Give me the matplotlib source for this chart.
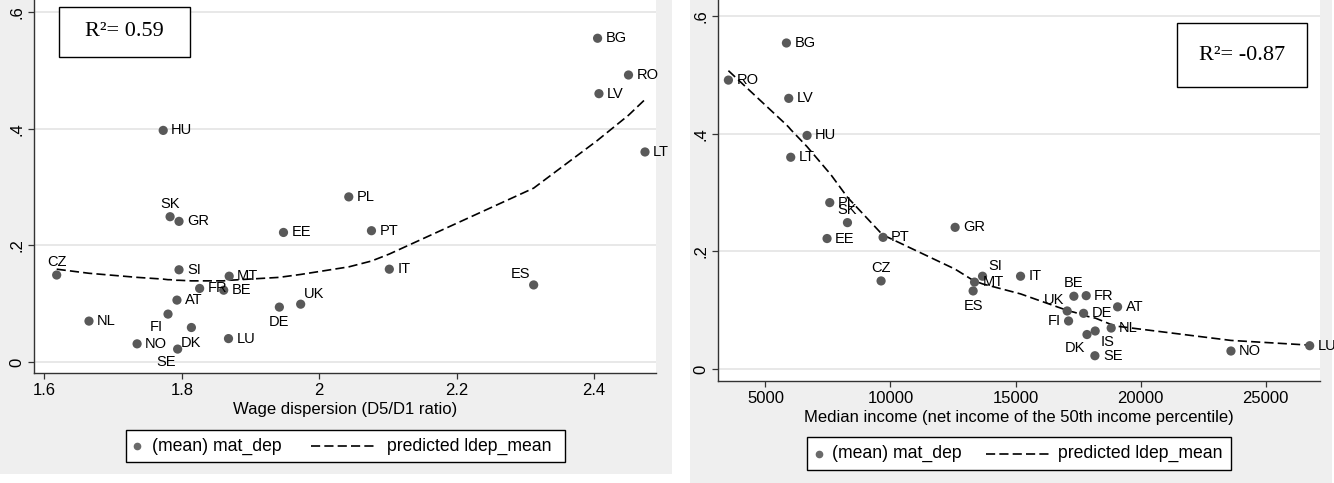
import numpy as np
import matplotlib.pyplot as plt
from matplotlib.patches import Rectangle
from matplotlib.lines import Line2D

plt.rcParams['font.family'] = ['Liberation Sans', 'DejaVu Sans']

# --- left panel: material deprivation vs wage dispersion ---
ctry_w = ['CZ', 'NL', 'NO', 'SE', 'DK', 'FI', 'AT', 'SI', 'SK', 'GR', 'HU', 'FR', 'BE',
          'MT', 'LU', 'EE', 'DE', 'UK', 'PL', 'PT', 'IT', 'ES', 'BG', 'RO', 'LV', 'LT']
wage_disp = [1.618, 1.665, 1.735, 1.794, 1.814, 1.780, 1.793, 1.796, 1.783, 1.796, 1.773, 1.826, 1.861,
             1.869, 1.868, 1.948, 1.942, 1.973, 2.043, 2.076, 2.102, 2.312, 2.405, 2.450, 2.407, 2.474]
dep_w = [0.149, 0.070, 0.031, 0.022, 0.059, 0.082, 0.106, 0.158, 0.249, 0.241, 0.397, 0.126, 0.123,
         0.147, 0.040, 0.222, 0.094, 0.099, 0.283, 0.225, 0.159, 0.132, 0.555, 0.492, 0.460, 0.360]
fit_w = [0.159, 0.152, 0.145, 0.140, 0.139, 0.141, 0.140, 0.140, 0.141, 0.140, 0.142, 0.139, 0.139,
         0.140, 0.140, 0.146, 0.145, 0.150, 0.163, 0.173, 0.185, 0.298, 0.380, 0.423, 0.382, 0.450]

# --- right panel: material deprivation vs median income ---
ctry_m = ['RO', 'BG', 'LV', 'LT', 'HU', 'EE', 'PL', 'SK', 'CZ', 'PT', 'GR', 'ES', 'MT', 'SI',
          'IT', 'UK', 'FI', 'BE', 'DE', 'FR', 'DK', 'SE', 'IS', 'NL', 'AT', 'NO', 'LU']
med_inc = [3520, 5840, 5932, 6012, 6664, 7464, 7572, 8280, 9624, 9704, 12584, 13304, 13360, 13680,
           15200, 17064, 17120, 17332, 17720, 17824, 17856, 18172, 18184, 18824, 19080, 23612, 26760]
dep_m = [0.491, 0.554, 0.460, 0.360, 0.397, 0.222, 0.283, 0.249, 0.150, 0.224, 0.241, 0.133, 0.148, 0.158,
         0.158, 0.099, 0.082, 0.124, 0.095, 0.125, 0.059, 0.023, 0.065, 0.070, 0.106, 0.031, 0.040]
fit_m = [0.507, 0.415, 0.411, 0.407, 0.378, 0.338, 0.333, 0.292, 0.231, 0.228, 0.170, 0.151, 0.150, 0.145,
         0.128, 0.100, 0.099, 0.097, 0.092, 0.091, 0.090, 0.087, 0.087, 0.076, 0.073, 0.049, 0.041]

# label placement (clock position, default 3 o'clock)
pos_w = {'CZ': 12, 'SK': 12, 'SE': 7, 'DK': 6, 'FI': 7, 'DE': 6, 'UK': 1, 'ES': 11}
pos_m = {'SK': 12, 'CZ': 12, 'SI': 1, 'ES': 6, 'BE': 12, 'UK': 11, 'FI': 9, 'IS': 4, 'DK': 7}
offsets = {3: (8, 0, 'left'), 12: (0, 13, 'center'), 6: (0, -15, 'center'),
           7: (-12, -13, 'center'), 1: (13, 10, 'center'), 11: (-13, 11, 'center'),
           9: (-8, 0, 'right'), 4: (12, -11, 'center')}

W, H = 1334, 483
BG = '#efefef'
DOT = '#595959'
DASH = (5.5, 2.5)

fig = plt.figure(figsize=(W / 100, H / 100), dpi=100)


def px(x, y):
    return x / W, 1 - y / H


def rect_px(x0, y0, x1, y1, **kw):
    fx0, fy1 = px(x0, y1)
    r = Rectangle((fx0, fy1), (x1 - x0) / W, (y1 - y0) / H, transform=fig.transFigure, **kw)
    fig.patches.append(r)


# gray panel backgrounds (behind the axes)
rect_px(0, 0, 672, 474, facecolor=BG, edgecolor='none', zorder=-5)
rect_px(690, 0, 1332, 483, facecolor=BG, edgecolor='none', zorder=-5)


def make_axes(x0, x1, y_bottom):
    l, b = px(x0, y_bottom)
    return fig.add_axes([l, b, (x1 - x0) / W, y_bottom / H])


def style(ax):
    ax.set_facecolor('white')
    for s in ['top', 'right']:
        ax.spines[s].set_visible(False)
    for s in ['left', 'bottom']:
        ax.spines[s].set_color('#333333')
        ax.spines[s].set_linewidth(1.0)
    ax.yaxis.grid(True, color='#e6e6e6', lw=1.3)
    ax.set_axisbelow(True)
    ax.tick_params(direction='out', length=4, width=0.9, color='#333333', labelsize=12, pad=3)
    ax.set_yticks([0, 0.2, 0.4, 0.6])
    ax.set_yticklabels(['0', '.2', '.4', '.6'], rotation=90, va='center')


def draw(ax, x, y, fit, names, pos):
    order = np.argsort(x)
    ax.plot(np.array(x)[order], np.array(fit)[order], color='black', lw=1.2,
            dashes=DASH, zorder=2)
    ax.scatter(x, y, s=44, color=DOT, edgecolors='none', zorder=3)
    for xi, yi, n in zip(x, y, names):
        dx, dy, ha = offsets[pos.get(n, 3)]
        ax.annotate(n, (xi, yi), xytext=(dx, dy), textcoords='offset pixels',
                    ha=ha, va='center', fontsize=10.5, color='black', zorder=4)


def r2_box(x0, y0, x1, y1, txt):
    rect_px(x0, y0, x1, y1, facecolor='white', edgecolor='black', lw=1.0, zorder=5)
    fx, fy = px((x0 + x1) / 2, (y0 + y1) / 2)
    fig.text(fx, fy, txt, ha='center', va='center', fontsize=16,
             family=['Liberation Serif', 'DejaVu Serif'], zorder=6)


def legend_box(x0, y0, x1, y1, dot, t1, d0, d1, t2):
    rect_px(x0, y0, x1, y1, facecolor='white', edgecolor='black', lw=1.0, zorder=5)
    yc = (y0 + y1) / 2
    fx, fy = px(x0 + dot, yc)
    fig.add_artist(Line2D([fx], [fy], marker='o', ms=4.5, color='#6a6a6a', ls='none',
                          transform=fig.transFigure, zorder=6))
    fx, fy = px(x0 + t1, yc)
    fig.text(fx, fy, '(mean) mat_dep', ha='left', va='center', fontsize=12.7, zorder=6)
    a = px(x0 + d0, yc)
    b = px(x0 + d1, yc)
    fig.add_artist(Line2D([a[0], b[0]], [a[1], b[1]], color='black', lw=1.2, dashes=DASH,
                          transform=fig.transFigure, zorder=6))
    fx, fy = px(x0 + t2, yc)
    fig.text(fx, fy, 'predicted ldep_mean', ha='left', va='center', fontsize=12.7, zorder=6)


# left
ax1 = make_axes(34, 656, 373)
style(ax1)
draw(ax1, wage_disp, dep_w, fit_w, ctry_w, pos_w)
ax1.set_xlim(1.585, 2.49)
ax1.set_ylim(-0.019, 0.6206)
ax1.set_xticks([1.6, 1.8, 2.0, 2.2, 2.4])
ax1.set_xticklabels(['1.6', '1.8', '2', '2.2', '2.4'])
ax1.set_xlabel('Wage dispersion (D5/D1 ratio)', fontsize=12, labelpad=3)

# right
ax2 = make_axes(718, 1320, 381)
style(ax2)
draw(ax2, med_inc, dep_m, fit_m, ctry_m, pos_m)
ax2.set_xlim(3104, 27172)
ax2.set_ylim(-0.0199, 0.627)
ax2.set_xticks([5000, 10000, 15000, 20000, 25000])
ax2.set_xticklabels(['5000', '10000', '15000', '20000', '25000'])
ax2.set_xlabel('Median income (net income of the 50th income percentile)', fontsize=12, labelpad=3)

r2_box(59, 7, 190, 57, 'R²= 0.59')
r2_box(1177, 23, 1307, 87, 'R²= -0.87')
legend_box(126, 430, 565, 462, 11, 26, 185, 251, 261)
legend_box(807, 437, 1231, 470, 12, 25, 179, 243, 251)

fig.savefig('out.png', dpi=100)
